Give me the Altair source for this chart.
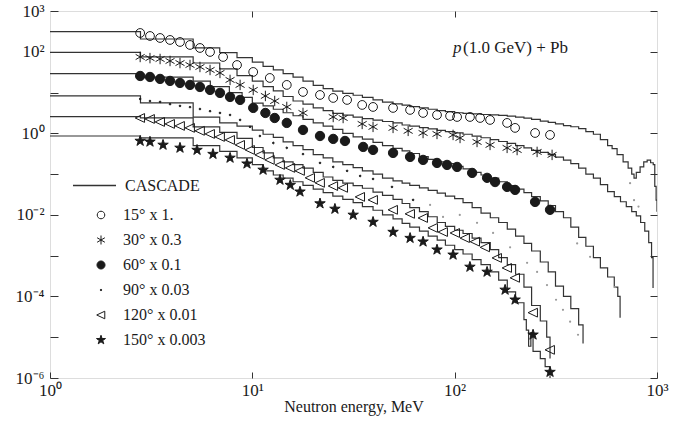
import altair as alt
import pandas as pd

# ---------------- CASCADE histograms (step-after: bin lower edge in MeV, value) ----------------
cas15_E = [1, 2.8, 5.1, 6.9, 8.4, 10, 11.3, 12.7, 14.2, 15.9, 17.8, 20, 22.4, 25, 28, 31.5, 35, 39.5,
           44, 49.6, 55, 60, 67, 74, 82, 90, 100, 110, 122, 135, 150, 165, 182, 200, 220, 240,
           265, 290, 315, 345, 375, 410, 445, 485, 525, 570, 600, 635, 680, 720, 750, 770, 790, 825,
           860, 894, 930, 958, 975, 990, 1000]
cas15_F = [311, 206, 124, 95, 72, 56, 44, 36, 29, 24, 19, 15, 12.5, 10.8, 9.5, 8.6, 7.6, 6.6,
           5.8, 5.3, 4.9, 4.5, 4.2, 3.9, 3.6, 3.4, 3.2, 3.1, 3.0, 2.9, 2.85, 2.75, 2.65, 2.5, 2.35, 2.2,
           2.0, 1.85, 1.7, 1.55, 1.45, 1.3, 1.1, 0.95, 0.7, 0.5, 0.42, 0.3, 0.2, 0.14, 0.1, 0.08, 0.11, 0.15,
           0.2, 0.22, 0.19, 0.17, 0.05, 0.023, 0.012]

cas30_E = [1, 2.8, 5.1, 6.9, 8.4, 10, 11.3, 12.7, 14.2, 15.9, 17.8, 20, 22.4, 25, 28, 31.5, 35, 39.5,
           44, 49.6, 55, 60, 67, 74, 82, 90, 100, 110, 122, 135, 150, 165, 182, 200, 220, 240,
           265, 290, 315, 345, 375, 410, 445, 485, 525, 570, 615, 660, 705, 750, 790, 830, 870, 910,
           940, 956]
cas30_F = [97, 75, 53, 38, 26, 19, 14, 11, 8, 6.2, 5.2, 4.2, 3.6, 3.1, 2.8, 2.5, 2.3, 2.1,
           1.95, 1.8, 1.6, 1.5, 1.38, 1.28, 1.18, 1.1, 1.03, 0.95, 0.85, 0.78, 0.7, 0.63, 0.57, 0.5, 0.44, 0.38,
           0.34, 0.3, 0.26, 0.22, 0.18, 0.14, 0.1, 0.08, 0.055, 0.037, 0.028, 0.021, 0.016, 0.012, 0.0095, 0.0065,
           0.004, 0.0021, 0.0009, 0.00016]

cas60_E = [1, 2.8, 5.1, 6.2, 7.7, 8.9, 10, 11.3, 12.7, 14.2, 15.9, 17.8, 20, 22.4, 25, 28, 31.5, 35,
           39.5, 44, 49.6, 55, 60, 67, 74, 82, 90, 100, 110, 122, 135, 150, 165, 182, 200, 220,
           240, 265, 290, 315, 345, 375, 410, 445, 485, 525, 570, 615, 640, 657]
cas60_F = [29, 24, 19, 14, 10, 7.6, 5.5, 4.7, 3.9, 3.2, 2.7, 2.2, 1.8, 1.5, 1.25, 1.0, 0.82, 0.72,
           0.6, 0.5, 0.43, 0.37, 0.32, 0.27, 0.23, 0.2, 0.18, 0.155, 0.135, 0.11, 0.095, 0.08, 0.065, 0.052, 0.043, 0.035,
           0.028, 0.022, 0.017, 0.012, 0.0085, 0.005, 0.0028, 0.0017, 0.0009, 0.0005, 0.0003, 0.00017, 0.0001, 0.00003]

cas90_E = [1, 2.8, 5.1, 6.9, 8.4, 10, 11.3, 12.7, 14.2, 15.9, 17.8, 20, 22.4, 25, 28, 31.5, 35, 39.5,
           44, 49.6, 55, 60, 67, 74, 82, 90, 100, 110, 122, 135, 150, 165, 182, 200, 220, 240,
           265, 290, 315, 345, 375, 410, 431]
cas90_F = [8.3, 5.6, 2.5, 1.8, 1.5, 1.2, 0.95, 0.8, 0.62, 0.5, 0.4, 0.3, 0.25, 0.2, 0.17, 0.145, 0.12, 0.1,
           0.08, 0.068, 0.06, 0.053, 0.046, 0.04, 0.034, 0.029, 0.025, 0.02, 0.015, 0.011, 0.0085, 0.0065, 0.0045, 0.003, 0.002, 0.0013,
           0.0007, 0.0004, 0.00018, 0.0001, 0.00005, 0.00002, 0.000007]

cas120_E = [1, 2.8, 5.1, 6.9, 8.4, 10, 11.3, 12.7, 14.2, 15.9, 17.8, 20, 22.4, 25, 28, 31.5, 35, 39.5,
            44, 49.6, 55, 60, 67, 74, 82, 90, 100, 110, 122, 135, 150, 165, 182, 200, 220, 240,
            265, 285, 296]
cas120_F = [2.57, 2.4, 1.44, 1.05, 0.75, 0.45, 0.33, 0.25, 0.2, 0.17, 0.14, 0.11, 0.085, 0.07, 0.06, 0.052, 0.045, 0.036,
            0.03, 0.024, 0.019, 0.015, 0.012, 0.009, 0.0065, 0.0052, 0.0042, 0.0035, 0.0027, 0.0021, 0.0014, 0.0009, 0.0006, 0.00035, 0.00017, 0.00006,
            0.000025, 0.00001, 0.000003]

cas150_E = [1, 2.8, 5.1, 6.9, 8.4, 10, 11.3, 12.7, 14.2, 15.9, 17.8, 20, 22.4, 25, 28, 31.5, 35, 39.5,
            44, 49.6, 55, 60, 67, 74, 82, 90, 100, 110, 122, 135, 150, 165, 182, 200, 220, 226,
            232, 238, 244, 265, 280, 296]
cas150_F = [0.86, 0.77, 0.5, 0.36, 0.25, 0.17, 0.12, 0.095, 0.08, 0.065, 0.053, 0.043, 0.035, 0.029, 0.024, 0.02, 0.016, 0.013,
            0.01, 0.008, 0.0062, 0.005, 0.004, 0.003, 0.0024, 0.0018, 0.0014, 0.0011, 0.0008, 0.0006, 0.0004, 0.00025, 0.00013, 0.00007, 0.000027, 0.000015,
            0.000006, 0.000013, 0.0000045, 0.000003, 0.0000019, 0.000001]

# ---------------- measured spectra (scaled) ----------------
d15_E = [2.79, 3.12, 3.50, 3.92, 4.39, 4.92, 5.51, 6.18, 7.17, 8.40, 10.1, 12.2, 14.8, 17.8, 21.6, 25.1,
         29.4, 34.9, 39.5, 49.6, 60.2, 69.8, 81.8, 94.9, 102.8, 119, 133.6, 149.6, 181.6, 198.9, 249.7, 296]
d15_F = [289, 244, 218, 195, 174, 147, 124, 99, 74.6, 47.4, 32, 22.8, 15.4, 10.35, 8.73, 7.38,
         6.59, 4.97, 4.44, 4.2, 3.75, 3.16, 2.82, 2.67, 2.52, 2.52, 2.38, 2.13, 1.80, 1.36, 1.02, 0.914]

d30_E = [2.79, 3.12, 3.50, 3.92, 4.39, 4.92, 5.51, 6.18, 6.92, 7.76, 8.70, 10.1, 11.6, 12.9, 14.8, 17.8,
         25.1, 28.1, 34.9, 39.5, 49.6, 58.9, 69.8, 81.8, 98.2, 106.3, 129, 149.6, 181.6, 203.5, 255.5, 303]
d30_F = [74.6, 70, 66.5, 59.5, 53, 47.4, 42.4, 35.8, 30.3, 20.4, 15.4, 11.6, 8.26, 6.2, 4.44, 3.16,
         2.52, 2.38, 1.70, 1.44, 1.36, 1.15, 1.02, 0.966, 0.914, 0.771, 0.615, 0.52, 0.44, 0.39, 0.35, 0.296]

d60_E = [2.79, 3.12, 3.50, 3.92, 4.39, 4.92, 5.51, 6.18, 6.92, 7.76, 8.70, 10.1, 11.6, 12.9, 14.8, 17.8, 21.6,
         25.1, 28.7, 35.3, 39.5, 49.6, 60.2, 69.8, 81.8, 91.7, 102.8, 122, 144.6, 158.4, 181.6, 198.9, 249.7, 296]
d60_F = [25.5, 24.1, 21.6, 19.3, 17.2, 15.4, 13.7, 11.6, 9.8, 7.8, 6.6, 4.2, 3.16, 2.38, 1.8, 1.21, 0.86,
         0.73, 0.65, 0.464, 0.392, 0.331, 0.264, 0.223, 0.188, 0.168, 0.15, 0.107, 0.081, 0.064, 0.0485, 0.041, 0.0208, 0.0133]

d90_E = [2.79, 3.12, 3.50, 3.92, 4.39, 4.92, 5.51, 6.18, 6.92, 7.76, 8.70, 9.74, 10.9, 12.7, 14.8, 17.8,
         21.6, 25.1, 29.4, 34.1, 39.5, 49.0, 62.3]
d90_F = [6.96, 6.2, 5.9, 5.2, 4.7, 4.4, 3.95, 3.5, 3.16, 2.82, 2.13, 1.44, 0.86, 0.58, 0.44, 0.31,
         0.188, 0.15, 0.12, 0.09, 0.076, 0.0485, 0.0233]

d120_E = [2.79, 3.12, 3.50, 3.92, 4.39, 4.92, 5.51, 6.18, 6.92, 7.76, 8.70, 9.74, 10.9, 12.2, 13.7, 15.4,
          17.2, 19.3, 21.6, 25.1, 28.1, 34.1, 39.5, 49.6, 60.2, 69.8, 78.2, 87.6, 100.5, 112.5, 126.2, 141.4,
          162, 181.6, 198.9, 244, 296]
d120_F = [2.38, 2.25, 1.90, 1.70, 1.52, 1.36, 1.15, 0.966, 0.816, 0.689, 0.52, 0.392, 0.296, 0.223, 0.168, 0.142,
          0.12, 0.081, 0.061, 0.051, 0.046, 0.0276, 0.0233, 0.0133, 0.0106, 0.0084, 0.0048, 0.0038, 0.0036, 0.0027, 0.0022, 0.0016,
          0.00088, 0.0005, 0.000286, 0.00004, 0.0000049]

d150_E = [2.79, 3.12, 3.62, 4.39, 5.33, 6.39, 7.76, 9.41, 11.3, 13.7, 15.4, 17.2, 21.6, 25.6, 31.5, 39.5,
          49.6, 60.2, 69.8, 81.8, 98.2, 119, 144.6, 177.5, 198.9, 244, 296]
d150_F = [0.65, 0.62, 0.52, 0.44, 0.39, 0.31, 0.25, 0.18, 0.127, 0.072, 0.054, 0.037, 0.019, 0.014, 0.01, 0.0067,
          0.0038, 0.0027, 0.0022, 0.0014, 0.00105, 0.00053, 0.0004, 0.000145, 0.000083, 0.0000115, 0.0000014]

# faint grey points (tails)
faint_E = [75.6, 87.6, 106, 129, 154.8, 187.9, 228, 255.5, 286, 317, 343, 372, 407, 403, 467, 620, 736, 770, 810]
faint_F = [0.0176, 0.0089, 0.01, 0.0064, 0.0036, 0.0016, 0.00067, 0.0004, 0.00019, 0.000083, 0.000047, 0.000024,
           0.0000115, 0.002, 0.00094, 0.00017, 0.06, 0.023, 0.016]

series_labels = ["15° x 1.", "30° x 0.3", "60° x 0.1", "90° x 0.03", "120° x 0.01", "150° x 0.003"]
x_ticks = [1, 10, 100, 1000]
y_ticks = [1e-6, 1e-5, 1e-4, 1e-3, 1e-2, 1e-1, 1, 10, 100, 1000]
x_labeled = [0, 1, 2, 3]
y_labeled = [3, 2, 0, -2, -4, -6]

# ---------------- build tables ----------------
cas = [(cas15_E, cas15_F), (cas30_E, cas30_F), (cas60_E, cas60_F),
       (cas90_E, cas90_F), (cas120_E, cas120_F), (cas150_E, cas150_F)]
rows = []
for lab, (es, fs) in zip(series_labels, cas):
    assert len(es) == len(fs), lab
    for e, f in zip(es, fs):
        rows.append({"curve": lab, "E": e, "F": f, "model": "CASCADE"})
lines_df = pd.DataFrame(rows)

meas = [(d15_E, d15_F), (d30_E, d30_F), (d60_E, d60_F), (d90_E, d90_F), (d120_E, d120_F), (d150_E, d150_F)]
rows = []
for lab, (es, fs) in zip(series_labels, meas):
    assert len(es) == len(fs), lab
    for e, f in zip(es, fs):
        rows.append({"series": lab, "E": e, "F": f})
pts_df = pd.DataFrame(rows)
faint_df = pd.DataFrame({"E": faint_E, "F": faint_F})
ann_p = pd.DataFrame({"E": [98.2], "F": [93.0], "t": ["p"]})
ann_rest = pd.DataFrame({"E": [110.0], "F": [93.0], "t": ["(1.0 GeV) + Pb"]})

# ---------------- styling ----------------
FONT = "Liberation Serif"
INK = "#1a1a1a"
sup = {-6: "⁻⁶", -5: "⁻⁵", -4: "⁻⁴", -3: "⁻³", -2: "⁻²", -1: "⁻¹",
       0: "⁰", 1: "¹", 2: "²", 3: "³"}


def label_expr(shown):
    e = "round(log(datum.value)/LN10)"
    parts = [f"({e}=={k})?'10{sup[k]}'" for k in shown]
    return ":".join(parts) + ":''"


xscale = alt.Scale(type="log", domain=[1, 1000], nice=False)
yscale = alt.Scale(type="log", domain=[1e-6, 1000], nice=False)

x_bottom = alt.Axis(values=x_ticks, labelExpr=label_expr(x_labeled), orient="bottom", offset=-6, tickSize=6,
                    domain=False, grid=False, labelFlush=False, labelOverlap=False, labelBound=False,
                    labelFont=FONT, labelFontSize=17, labelColor=INK, labelPadding=4, tickColor="#333",
                    title="Neutron energy, MeV", titleFont=FONT, titleFontSize=16, titleFontWeight="normal",
                    titleColor=INK, titlePadding=0)
y_left = alt.Axis(values=y_ticks, labelExpr=label_expr(y_labeled), orient="left", offset=-8, tickSize=8,
                  domain=False, grid=False, labelOverlap=False, labelBound=False, labelFlush=False,
                  labelFont=FONT, labelFontSize=17, labelColor=INK, labelPadding=6, tickColor="#333", title=None)
x_top = alt.Axis(values=[10, 100], orient="top", offset=-6, tickSize=6, domain=False, grid=False,
                 labels=False, tickColor="#333", title=None)
y_right = alt.Axis(values=y_ticks, orient="right", offset=-7, tickSize=7, domain=False, grid=False,
                   labels=False, tickColor="#333", title=None)

# symbol outlines in unit coordinates (all drawn at the same mark size)
shapes = ["M0.8,0A0.8,0.8,0,1,1,-0.8,0A0.8,0.8,0,1,1,0.8,0Z",
          "M0,-0.95L0,0.95M-0.82,-0.475L0.82,0.475M-0.82,0.475L0.82,-0.475",
          "M0.85,0A0.85,0.85,0,1,1,-0.85,0A0.85,0.85,0,1,1,0.85,0Z",
          "M0.16,0A0.16,0.16,0,1,1,-0.16,0A0.16,0.16,0,1,1,0.16,0Z",
          "M-0.9,0L0.8,-0.8L0.8,0.8Z",
          "M0,-1L0.2245,-0.309L0.951,-0.309L0.363,0.118L0.588,0.809L0,0.382L-0.588,0.809L-0.363,0.118L-0.951,-0.309L-0.2245,-0.309Z"]
fills = ["transparent", INK, INK, INK, "transparent", INK]
strokes = [INK] * 6

pts_legend = alt.Legend(orient="none", legendX=43, legendY=196, title=None, padding=0,
                        labelFont=FONT, labelFontSize=16, labelColor=INK, labelOffset=14,
                        rowPadding=9, symbolSize=90, symbolStrokeWidth=1)
line_legend = alt.Legend(orient="none", legendX=22, legendY=152, title=None, padding=0,
                         symbolType="stroke", symbolSize=1850, symbolStrokeWidth=1.3,
                         symbolStrokeColor="#333", labelFont=FONT, labelFontSize=16,
                         labelColor=INK, labelOffset=8)

lines = alt.Chart(lines_df).mark_line(interpolate="step-after", strokeWidth=1.2, clip=True).encode(
    x=alt.X("E:Q", scale=xscale, axis=x_bottom),
    y=alt.Y("F:Q", scale=yscale, axis=y_left),
    detail="curve:N",
    color=alt.Color("model:N", scale=alt.Scale(range=["#333333"]), legend=line_legend),
)

faint = alt.Chart(faint_df).mark_circle(size=5, color="#9a9a9a", opacity=1, clip=True).encode(
    x=alt.X("E:Q", scale=xscale, axis=None),
    y=alt.Y("F:Q", scale=yscale, axis=None),
)

points = alt.Chart(pts_df).mark_point(size=121, strokeWidth=1, opacity=1, clip=True).encode(
    x=alt.X("E:Q", scale=xscale, axis=x_top),
    y=alt.Y("F:Q", scale=yscale, axis=y_right),
    shape=alt.Shape("series:N", scale=alt.Scale(domain=series_labels, range=shapes), legend=pts_legend),
    fill=alt.Fill("series:N", scale=alt.Scale(domain=series_labels, range=fills), legend=pts_legend),
    stroke=alt.Stroke("series:N", scale=alt.Scale(domain=series_labels, range=strokes), legend=pts_legend),
)

txt_p = alt.Chart(ann_p).mark_text(font=FONT, fontSize=17, fontStyle="italic", align="left",
                                   baseline="alphabetic", color=INK).encode(
    x=alt.X("E:Q", scale=xscale, axis=None), y=alt.Y("F:Q", scale=yscale, axis=None), text="t:N")
txt_rest = alt.Chart(ann_rest).mark_text(font=FONT, fontSize=17, align="left",
                                         baseline="alphabetic", color=INK).encode(
    x=alt.X("E:Q", scale=xscale, axis=None), y=alt.Y("F:Q", scale=yscale, axis=None), text="t:N")

chart = alt.layer(lines, faint, points, txt_p, txt_rest).resolve_axis(
    x="independent", y="independent"
).resolve_legend(color="independent").properties(
    width=607, height=367,
    autosize=alt.AutoSizeParams(type="none"),
    padding={"left": 50, "top": 11, "right": 34, "bottom": 43},
).configure_view(stroke="#333", strokeWidth=1.2).configure(background="white")

chart.save("out.html", embed_options={"renderer": "svg", "actions": False})
